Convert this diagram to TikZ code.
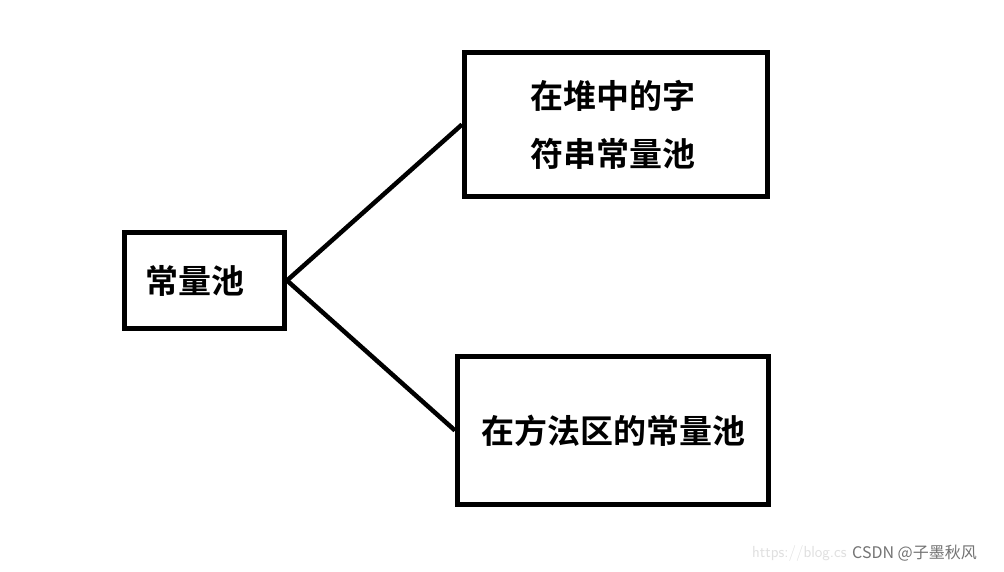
\documentclass[tikz,border=0pt]{standalone}
\usepackage{xcolor}
\usepackage{tikz}
\usepackage{fontspec}
\newfontfamily\cjk{Noto Sans CJK SC}
\newfontfamily\cjkbold{Noto Sans CJK SC Bold}
\usetikzlibrary{positioning}

\begin{document}
\begin{tikzpicture}[x=1pt,y=-1pt]
        \useasboundingbox[fill=white] (0,0) rectangle (1004,572);
        \begin{scope}[every node/.style={draw=black,line width=5pt,inner sep=0pt,
            font=\cjkbold\fontsize{33}{58}\selectfont,align=center}]
          \node[minimum width=160pt,minimum height=96pt,text width=119pt,align=left] (pool) at (204.5,280.5) {常量池};
          \node[minimum width=303pt,minimum height=144pt,text width=172pt,align=left] (heap) at (616,124.5) {在堆中的字\\符串常量池};
          \node[minimum width=311pt,minimum height=148pt] (method) at (613,430.5) {在方法区的常量池};
        \end{scope}
        \begin{scope}[every edge/.style={draw=black,line width=4.5pt}]
          \path (pool.east) edge (heap.west);
          \path (pool.east) edge (method.west);
        \end{scope}
        % watermark
        \node[anchor=west,inner sep=0pt,text=black!12,font=\fontsize{16}{16}\selectfont\sffamily] (url) at (752,553) {https://blog.cs};
        \node[anchor=west,inner sep=0pt,text=black!55,font=\cjk\fontsize{16}{16}\selectfont] (mark) at (852,553) {CSDN @子墨秋风};
      \end{tikzpicture}
\end{document}
